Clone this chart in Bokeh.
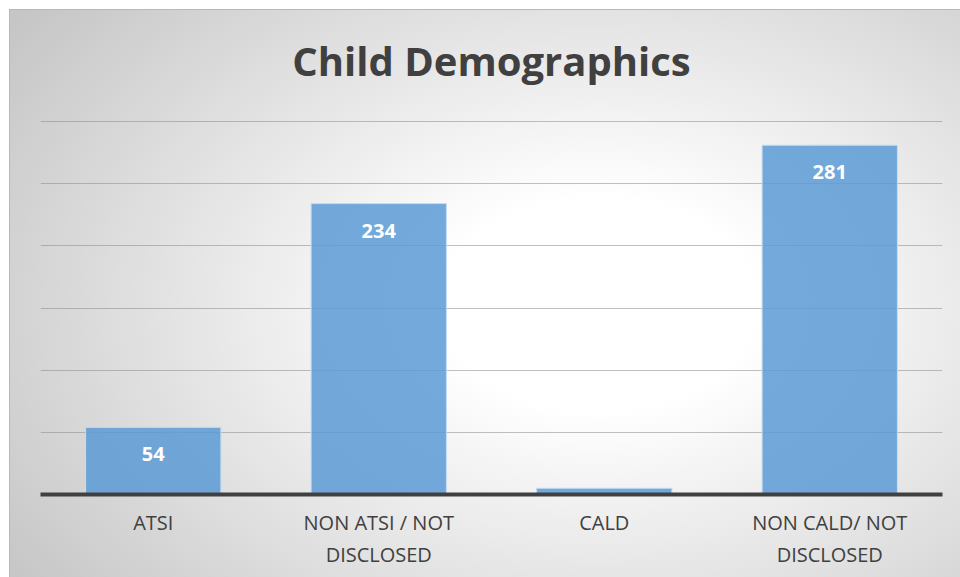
from bokeh.plotting import figure
from bokeh.models import ColumnDataSource
from bokeh.core.properties import value
from bokeh.embed import file_html
from bokeh.resources import INLINE

categories = ["ATSI", "NON ATSI / NOT\nDISCLOSED", "CALD", "NON CALD/ NOT\nDISCLOSED"]
counts = [54, 234, 5, 281]
label_texts = ["54", "234", "", "281"]
y_ticks = [0, 50, 100, 150, 200, 250, 300]
title_text = "Child Demographics"

W, H = 951, 568
p = figure(x_range=categories, y_range=(0, 306.5), width=W, height=H,
           output_backend="svg", toolbar_location=None,
           min_border_left=31, min_border_right=18, min_border_top=16, min_border_bottom=83,
           margin=(9, 0, 0, 9))
p.styles = {
    "background": "radial-gradient(ellipse 75% 85% at 62% 52%, #ffffff 0%, #ffffff 22%, #c6c6c6 100%)",
    "box-shadow": "inset 1px 1px 0 #b8b8b8",
}
p.background_fill_alpha = 0
p.border_fill_alpha = 0
p.outline_line_color = None

p.title.text = title_text
p.title.align = "center"
p.title.vertical_align = "top"
p.title.text_font = "Open Sans"
p.title.text_font_style = "bold"
p.title.text_font_size = "40px"
p.title.text_color = "#404040"
p.title.standoff = 47

src = ColumnDataSource(dict(cat=categories, val=counts, lab=label_texts))
p.vbar(x="cat", top="val", width=0.6, source=src,
       fill_color="#5b9bd5", fill_alpha=0.85, line_color="#c5dcf1", line_width=1)
p.text(x="cat", y="val", text="lab", source=src, y_offset=27,
       text_align="center", text_baseline="middle", text_color="white",
       text_font=value("Open Sans"), text_font_style="bold", text_font_size="20px")

p.yaxis.visible = False
p.yaxis.ticker = y_ticks
p.ygrid.ticker = y_ticks
p.ygrid.grid_line_color = "#8c8c8c"
p.ygrid.grid_line_alpha = 0.55
p.ygrid.grid_line_width = 1
p.xgrid.visible = False

xa = p.xaxis[0]
xa.axis_line_color = "#404040"
xa.axis_line_width = 4
xa.major_tick_line_color = None
xa.minor_tick_line_color = None
xa.major_label_text_font = "Open Sans"
xa.major_label_text_font_size = "20px"
xa.major_label_text_color = "#404040"
xa.major_label_text_line_height = 1.2
xa.major_label_standoff = 8
p.x_range.range_padding = 0

open("out.html", "w").write(file_html(p, INLINE))
